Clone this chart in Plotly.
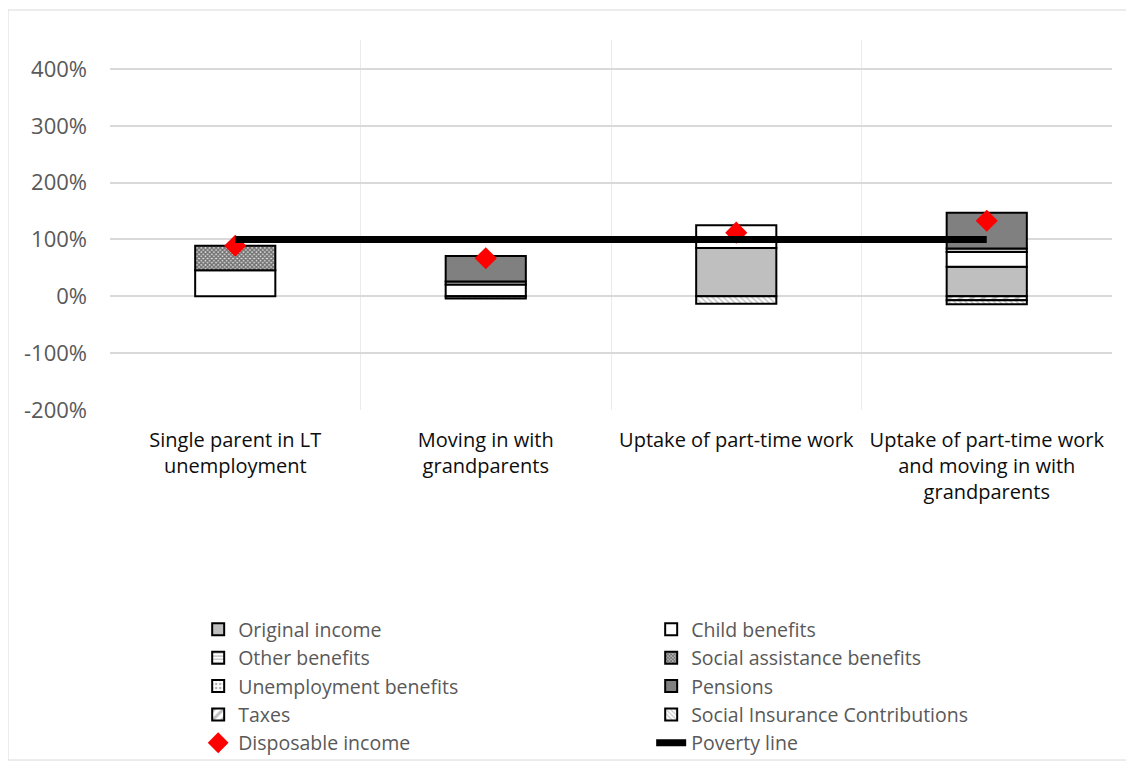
import plotly.graph_objects as go

categories = [
    "Single parent in LT<br>unemployment",
    "Moving in with<br>grandparents",
    "Uptake of part-time work",
    "Uptake of part-time work<br>and moving in with<br>grandparents",
]
original_income = [0, 0, 85, 52]
child_benefits = [46, 21, 40, 26]
other_benefits = [0, 5, 0, 6]
social_assistance = [43, 0, 0, 0]
unemployment_benefits = [0, 0, 0, 0]
pensions = [0, 45, 0, 63]
taxes = [0, 0, 0, -7]
social_insurance = [0, -4, -13, -7]
disposable_income = [89, 67, 112, 133]
poverty_line = [100, 100, 100, 100]
y_ticks = [-200, -100, 0, 100, 200, 300, 400]
y_tick_labels = ["-200%", "-100%", "0%", "100%", "200%", "300%", "400%"]


def nz(vals):
    return [v if v != 0 else None for v in vals]


FONT = "Open Sans"
fig = go.Figure()

bar_specs = [
    ("Original income", original_income, "#BFBFBF", dict(shape="")),
    ("Child benefits", child_benefits, "#FFFFFF", dict(shape="")),
    ("Other benefits", other_benefits, "#FFFFFF",
     dict(shape="-", fgcolor="#808080", bgcolor="#FFFFFF", size=4, solidity=0.4)),
    ("Social assistance benefits", social_assistance, "#FFFFFF",
     dict(shape="x", fgcolor="#000000", bgcolor="#E0E0E0", size=3, solidity=0.7)),
    ("Unemployment benefits", unemployment_benefits, "#FFFFFF",
     dict(shape=".", fgcolor="#606060", bgcolor="#FFFFFF", size=5, solidity=0.3)),
    ("Pensions", pensions, "#808080", dict(shape="")),
    ("Taxes", taxes, "#FFFFFF",
     dict(shape="/", fgcolor="#808080", bgcolor="#FFFFFF", size=8, solidity=0.45)),
    ("Social Insurance Contributions", social_insurance, "#FFFFFF",
     dict(shape="\\", fgcolor="#808080", bgcolor="#FFFFFF", size=4, solidity=0.35)),
]

for name, vals, color, patt in bar_specs:
    fig.add_trace(go.Bar(
        name=name, x=categories, y=nz(vals), width=0.32,
        marker=dict(color=color, line=dict(color="#000000", width=2), pattern=patt),
        hoverinfo="skip",
    ))

fig.add_trace(go.Scatter(
    name="Disposable income", x=categories, y=disposable_income, mode="markers",
    marker=dict(symbol="diamond", color="#FF0000", size=17, line=dict(width=0)),
))
fig.add_trace(go.Scatter(
    name="Poverty line", x=categories, y=poverty_line, mode="lines",
    line=dict(color="#000000", width=7),
))

fig.update_layout(
    width=1126, height=753,
    barmode="relative",
    plot_bgcolor="#FFFFFF", paper_bgcolor="#FFFFFF",
    margin=dict(l=102, r=22, t=32, b=351, pad=0, autoexpand=False),
    font=dict(family=FONT, size=20, color="#595959"),
    showlegend=True,
    legend=dict(
        orientation="h", x=0.088, xanchor="left", y=-0.541, yanchor="top",
        entrywidth=408, entrywidthmode="pixels",
        font=dict(family=FONT, size=19.5, color="#595959"),
        traceorder="normal", bgcolor="rgba(0,0,0,0)",
    ),
    xaxis=dict(
        type="category", tickson="boundaries", showgrid=True, gridcolor="#EBEBEB",
        gridwidth=1, showline=False, zeroline=False, ticks="",
        tickfont=dict(family=FONT, size=20, color="#0D0D0D"),
        ticklabelstandoff=16,
    ),
    yaxis=dict(
        range=[-200, 451], tickmode="array", tickvals=y_ticks, ticktext=y_tick_labels,
        showgrid=True, gridcolor="#D9D9D9", gridwidth=1.5, zeroline=False,
        showline=False, ticks="", ticklabelstandoff=22,
        tickfont=dict(family=FONT, size=22, color="#595959"),
    ),
    shapes=[dict(
        type="rect", xref="paper", yref="paper",
        x0=-0.1018, x1=1.021, y0=-0.946, y1=1.081,
        line=dict(color="#D9D9D9", width=1), fillcolor="rgba(0,0,0,0)", layer="below",
    )],
)

fig.write_html("out.html")
